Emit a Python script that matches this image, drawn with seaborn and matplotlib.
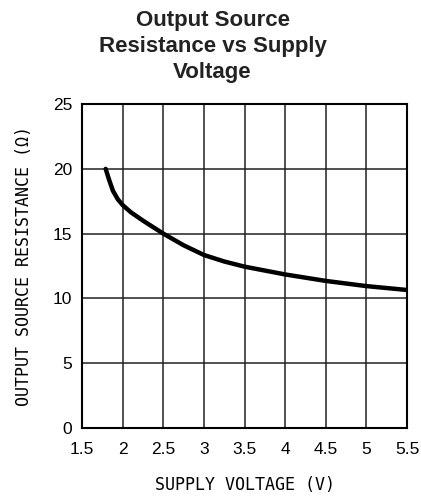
import numpy as np
import pandas as pd
import matplotlib
matplotlib.use("Agg")
import matplotlib.pyplot as plt
import seaborn as sns

# Data
supply_voltage = [1.79, 1.83, 1.88, 1.94, 2.0, 2.1, 2.25, 2.5, 2.75, 3.0, 3.25, 3.5, 4.0, 4.5, 5.0, 5.5]
resistance = [20.0, 19.2, 18.3, 17.65, 17.2, 16.65, 16.0, 15.0, 14.1, 13.35, 12.85, 12.45, 11.85, 11.35, 10.95, 10.65]
x_ticks = [1.5, 2, 2.5, 3, 3.5, 4, 4.5, 5, 5.5]
x_tick_labels = ["1.5", "2", "2.5", "3", "3.5", "4", "4.5", "5", "5.5"]
y_ticks = [0, 5, 10, 15, 20, 25]

df = pd.DataFrame({"v": supply_voltage, "r": resistance})

sns.set_theme(style="white")
plt.rcParams['font.family'] = ['DejaVu Sans']

fig = plt.figure(figsize=(4.21, 4.98), dpi=100)
ax = fig.add_axes([0.195, 0.1406, 0.772, 0.6504])

sns.lineplot(data=df, x="v", y="r", ax=ax, color="black", linewidth=3.2)

ax.set_xlim(1.5, 5.5)
ax.set_ylim(0, 25)
ax.set_xticks(x_ticks)
ax.set_xticklabels(x_tick_labels)
ax.set_yticks(y_ticks)
ax.grid(True, color="#222222", linewidth=1.1)
for s in ax.spines.values():
    s.set_visible(True)
    s.set_color("black")
    s.set_linewidth(1.5)
ax.tick_params(axis="x", length=0, labelsize=12.5, colors="black", pad=10)
ax.tick_params(axis="y", length=0, labelsize=12.5, colors="black", pad=7)
for lab in ax.get_xticklabels() + ax.get_yticklabels():
    lab.set_family(["Liberation Sans", "DejaVu Sans"])
ax.set_xlabel("SUPPLY VOLTAGE (V)", fontsize=12, labelpad=14, color="black",
              family=["DejaVu Sans Mono", "DejaVu Sans"])
ax.set_ylabel("OUTPUT SOURCE RESISTANCE (\u03a9)", fontsize=12, labelpad=14, color="black",
              family=["DejaVu Sans Mono", "DejaVu Sans"])

fig.text(0.505, 0.98, "Output Source\nResistance vs Supply\nVoltage", ha="center", va="top",
         fontsize=16, fontweight="bold", family=["Liberation Sans", "DejaVu Sans"],
         color="#222222", linespacing=1.3)

fig.savefig("out.png", dpi=100)
